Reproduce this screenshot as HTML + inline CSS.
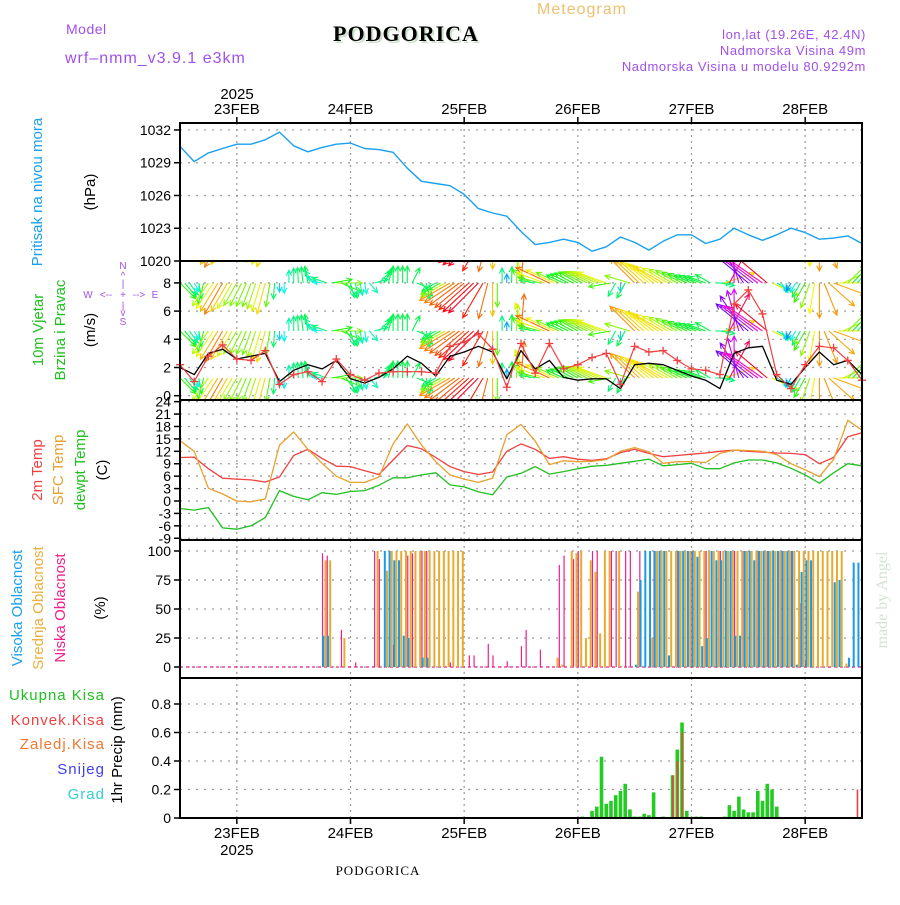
<!DOCTYPE html>
<html><head><meta charset="utf-8">
<style>
body{margin:0;background:#fff;}
svg text{font-family:"Liberation Sans",sans-serif;}
</style></head>
<body>
<svg id="c" width="900" height="900" viewBox="0 0 900 900" xmlns="http://www.w3.org/2000/svg">
<defs>
<clipPath id="cpw"><rect x="180" y="262" width="682" height="137"/></clipPath>
</defs>
<g>
<text x="582" y="14" fill="#f0c070" font-size="16" text-anchor="middle" letter-spacing="1">Meteogram</text>
<text x="66" y="34" fill="#a050e8" font-size="14" letter-spacing="0.5">Model</text>
<text x="408" y="43" fill="#cde0cd" font-size="22" font-weight="bold" text-anchor="middle" style="font-family:'Liberation Serif',serif" letter-spacing="1">PODGORICA</text>
<text x="406" y="41" fill="#000" font-size="22" font-weight="bold" text-anchor="middle" style="font-family:'Liberation Serif',serif" letter-spacing="1">PODGORICA</text>
<text x="65" y="63" fill="#a050e8" font-size="16" letter-spacing="1">wrf–nmm_v3.9.1  e3km</text>
<text x="866" y="39" fill="#a050e8" font-size="13" text-anchor="end" letter-spacing="0.6">lon,lat (19.26E, 42.4N)</text>
<text x="866" y="55" fill="#a050e8" font-size="13" text-anchor="end" letter-spacing="0.6">Nadmorska Visina 49m</text>
<text x="866" y="71" fill="#a050e8" font-size="13" text-anchor="end" letter-spacing="0.6">Nadmorska Visina u modelu 80.9292m</text>
<text x="237" y="99" fill="#000" font-size="15" text-anchor="middle">2025</text>
<text x="378" y="875" fill="#000" font-size="13" text-anchor="middle" style="font-family:'Liberation Serif',serif" letter-spacing="1">PODGORICA</text>
<text transform="translate(887,600) rotate(-90)" fill="#d4e2d4" font-size="16" text-anchor="middle" style="font-family:'Liberation Serif',serif">made by Angel</text>
</g>
<g>
<text transform="translate(42,192) rotate(-90)" fill="#1aa0f0" font-size="15" text-anchor="middle">Pritisak na nivou mora</text>
<text transform="translate(95,192) rotate(-90)" fill="#000" font-size="15" text-anchor="middle">(hPa)</text>
<text transform="translate(43,330) rotate(-90)" fill="#20c020" font-size="15" text-anchor="middle">10m Vjetar</text>
<text transform="translate(65,330) rotate(-90)" fill="#20c020" font-size="15" text-anchor="middle">Brzina i Pravac</text>
<text transform="translate(95,330) rotate(-90)" fill="#000" font-size="15" text-anchor="middle">(m/s)</text>
<g fill="#a050e8" font-size="10" text-anchor="middle">
<text x="123" y="269">N</text><text x="123" y="279">^</text><text x="123" y="287">|</text>
<text x="88" y="298">W</text><text x="106" y="298">&lt;--</text><text x="123" y="298">+</text><text x="139" y="298">--&gt;</text><text x="155" y="298">E</text>
<text x="123" y="309">|</text><text x="123" y="316">v</text><text x="123" y="325">S</text>
</g>
<text transform="translate(42,470) rotate(-90)" fill="#f04040" font-size="15" text-anchor="middle">2m Temp</text>
<text transform="translate(63,470) rotate(-90)" fill="#e8a030" font-size="15" text-anchor="middle">SFC Temp</text>
<text transform="translate(85,470) rotate(-90)" fill="#20c020" font-size="15" text-anchor="middle">dewpt Temp</text>
<text transform="translate(107,470) rotate(-90)" fill="#000" font-size="15" text-anchor="middle">(C)</text>
<text transform="translate(22,608) rotate(-90)" fill="#1aa0f0" font-size="15" text-anchor="middle">Visoka Oblacnost</text>
<text transform="translate(43,608) rotate(-90)" fill="#e8b040" font-size="15" text-anchor="middle">Srednja Oblacnost</text>
<text transform="translate(65,608) rotate(-90)" fill="#f0208a" font-size="15" text-anchor="middle">Niska Oblacnost</text>
<text transform="translate(105,608) rotate(-90)" fill="#000" font-size="15" text-anchor="middle">(%)</text>
<text x="105" y="700" fill="#20c020" font-size="15" text-anchor="end" letter-spacing="1">Ukupna  Kisa</text>
<text x="105" y="725" fill="#f04040" font-size="15" text-anchor="end" letter-spacing="1">Konvek.Kisa</text>
<text x="105" y="749" fill="#f07830" font-size="15" text-anchor="end" letter-spacing="1">Zaledj.Kisa</text>
<text x="105" y="774" fill="#4040f0" font-size="15" text-anchor="end" letter-spacing="1">Snijeg</text>
<text x="105" y="799" fill="#30d0d0" font-size="15" text-anchor="end" letter-spacing="1">Grad</text>
<text transform="translate(122,750) rotate(-90)" fill="#000" font-size="15" text-anchor="middle">1hr Precip (mm)</text>
</g>
<g id="plot"></g>
</svg>
<script>
// ---- data ----
const dayLabels = ["23FEB","24FEB","25FEB","26FEB","27FEB","28FEB"];
const dayHours = [12,36,60,84,108,132];
// 3-hourly series (hours 0..144 from 22FEB 12Z)
const pressure = [1030.5,1029.1,1029.9,1030.3,1030.7,1030.7,1031.1,1031.8,1030.55,1030.0,1030.4,1030.7,1030.8,1030.3,1030.2,1029.95,1028.5,1027.3,1027.1,1026.9,1026.1,1024.8,1024.4,1024.1,1022.7,1021.5,1021.7,1022.0,1021.7,1020.9,1021.3,1022.2,1021.7,1021.0,1021.8,1022.4,1022.4,1021.6,1022.0,1023.0,1022.4,1021.9,1022.4,1023.0,1022.6,1022.0,1022.1,1022.3,1021.6];
const temp2m = [10.5,10.6,7.8,5.5,5.3,5.1,4.6,5.8,11.0,12.5,10.3,8.4,8.3,7.3,6.4,9.9,13.4,12.6,10.5,8.3,7.1,6.4,7.0,12.0,13.8,12.5,10.3,10.7,10.1,9.8,10.2,11.7,12.5,11.5,10.7,11.0,11.3,11.6,12.0,12.3,12.0,11.8,11.6,11.5,11.2,9.0,10.5,15.5,16.5];
const tempSfc = [14.6,12.0,3.1,1.7,0.0,-0.2,0.5,13.5,16.7,12.5,9.1,6.0,4.5,4.5,5.8,13.8,18.6,13.5,9.5,6.3,5.3,4.5,5.5,16.0,18.5,14.5,8.8,9.7,9.5,9.6,10.0,12.0,12.9,11.9,9.1,9.5,9.5,9.3,11.5,12.3,12.2,12.0,11.2,9.0,7.5,5.9,10.0,19.5,17.1];
const dewpt = [-1.8,-2.2,-1.6,-6.5,-6.8,-6.0,-4.0,2.5,1.1,0.3,2.0,1.6,2.3,2.5,3.8,5.6,5.6,6.3,6.8,3.9,3.4,2.2,1.5,5.8,6.7,8.3,6.5,7.1,7.8,8.4,8.6,9.1,9.6,10.1,8.5,8.8,9.1,7.8,7.8,9.2,9.9,9.9,9.2,7.9,6.3,4.3,6.8,9.0,8.5];
const windSpeed = [2.0,1.5,3.0,3.3,2.6,2.8,3.0,1.0,1.8,2.2,1.9,2.5,1.2,0.9,1.3,1.9,2.8,2.3,1.4,2.8,3.1,3.5,3.1,1.2,3.2,1.9,2.5,1.3,1.1,1.2,1.2,0.5,2.2,2.3,2.2,1.8,1.4,1.1,0.5,3.0,3.4,3.5,1.1,0.8,2.0,3.1,2.2,2.5,1.5];
const windGust = [2.2,1.0,2.8,3.6,2.6,2.5,3.2,0.8,1.5,1.7,1.0,2.6,1.5,1.1,1.6,1.7,1.7,1.7,1.6,3.5,3.8,4.4,3.3,0.6,3.7,1.6,3.7,1.9,2.2,2.7,3.0,0.8,3.5,3.1,3.2,2.5,1.9,1.8,1.5,6.5,7.5,5.8,1.5,0.5,2.2,3.5,3.4,2.5,1.1];
const windDir = [135,150,215,210,210,200,195,180,0,350,280,90,165,170,45,0,0,140,240,240,230,225,180,0,5,280,295,295,300,295,290,180,315,310,300,300,295,290,100,0,310,305,120,210,210,180,110,45,40];
// hourly cloud cover (%) hour index 0..143
const cloudHigh = [0,0,0,0,0,0,0,0,0,0,0,0,0,0,0,0,0,0,0,0,0,0,0,0,0,0,0,0,0,0,27,27,0,0,0,0,0,0,0,0,0,0,0,100,100,92,92,27,25,0,0,8,8,0,0,0,0,0,0,0,0,0,0,0,0,0,0,0,0,0,0,0,0,0,0,0,0,0,0,0,0,0,0,0,0,0,0,0,0,0,0,0,0,0,0,0,2,75,100,100,100,100,100,10,0,100,100,100,100,95,18,25,100,92,92,100,100,27,27,100,100,92,100,100,100,100,100,100,100,100,2,82,92,92,0,0,0,0,73,75,0,8,90,90];
const cloudMid = [0,0,0,0,0,0,0,0,0,0,0,0,0,0,0,0,0,0,0,0,0,0,0,0,0,0,0,0,0,0,92,92,0,0,25,0,0,0,0,0,0,100,0,83,100,100,100,100,100,100,100,100,100,100,100,100,100,100,100,100,0,0,0,0,0,0,0,0,0,0,0,0,0,0,0,0,0,0,0,8,2,0,100,98,100,25,92,82,29,100,100,0,100,0,0,0,65,0,0,25,100,100,100,100,100,100,100,100,100,100,100,100,100,100,100,100,100,100,100,100,100,100,100,100,100,100,100,100,100,100,100,100,100,100,100,100,100,100,100,100,3,0,0,0];
const cloudLow = [0,0,0,0,0,0,0,0,0,0,0,0,0,0,0,0,0,0,0,0,0,0,0,0,0,0,0,0,0,98,96,0,0,32,0,0,4,0,0,0,100,93,0,0,19,0,0,96,98,0,100,100,0,0,0,0,4,0,0,0,10,10,0,0,20,10,0,0,5,0,0,18,32,0,0,15,0,0,0,88,96,0,93,100,0,0,100,100,0,0,100,100,0,100,100,0,100,0,0,100,0,0,0,0,100,0,0,100,0,0,100,0,0,100,0,0,100,0,100,0,0,100,0,100,0,0,100,0,100,0,55,4,0,0,0,0,0,0,0,0,0,0,0,0];
// hourly precipitation (mm) hours with rain
const precipHours = [85,87,88,89,90,91,92,93,94,95,96,97,98,99,100,102,104,105,106,107,109,110,115,116,117,118,119,120,121,122,123,124,125,126];
const precipTotal = [0.01,0.05,0.08,0.43,0.1,0.12,0.16,0.19,0.24,0.06,0.01,0.01,0.03,0.02,0.18,0.01,0.3,0.48,0.67,0.05,0.01,0.01,0.01,0.09,0.05,0.15,0.06,0.04,0.04,0.19,0.12,0.24,0.20,0.08];
const convHours = [104,105,106,143];
const convVals = [0.3,0.4,0.6,0.2];
const pTicks = [1020,1023,1026,1029,1032];
const wTicks = [0,2,4,6,8];
const tTicks = [-9,-6,-3,0,3,6,9,12,15,18,21,24];
const cTicks = [0,25,50,75,100];
const rTicks = [0,0.2,0.4,0.6,0.8];

// ---- scales ----
const X0=180, X1=862, NH=144;
const xS = h => X0 + h*(X1-X0)/NH;
const yP = v => 261 - (v-1020)*10.92;
const yW = v => 395.7 - v*14.1;
const yT = v => 501 - v*4.14;
const yC = v => 667 - v*1.16;
const yR = v => 818 - v*142.5;
const NS="http://www.w3.org/2000/svg";
const plot=document.getElementById('plot');
function mk(tag, attrs, parent){const e=document.createElementNS(NS,tag);for(const k in attrs)e.setAttribute(k,attrs[k]);(parent||plot).appendChild(e);return e;}

const panels=[{t:123,b:261,n:'pressure'},{t:261,b:400,n:'wind'},{t:400,b:540,n:'temperature'},{t:540,b:678,n:'cloud'},{t:678,b:818,n:'precip'}];
panels.forEach(p=>{
  dayHours.forEach(h=>{const l=mk('line',{x1:xS(h),x2:xS(h),y1:p.t,y2:p.b,stroke:'#999','stroke-width':1.2,'stroke-dasharray':'2,4'});
    
    });
});
function hgrid(ticks, ys, fmt){
  ticks.forEach(v=>{const y=ys(v);
    const g=mk('line',{x1:X0,x2:X1,y1:y,y2:y,stroke:'#999','stroke-width':1.2,'stroke-dasharray':'2,6'});
    
    
    const tk=mk('line',{x1:X0-6,x2:X0,y1:y,y2:y,stroke:'#000','stroke-width':1.5});
    
    
    const t=mk('text',{x:X0-9,y:y+5,'text-anchor':'end','font-size':14,fill:'#000'});
    t.textContent=fmt?fmt(v):v;
    
    
  });
}
hgrid(pTicks,yP);hgrid(wTicks,yW);hgrid(tTicks,yT);hgrid(cTicks,yC);hgrid(rTicks,yR,v=>v===0?'0':v.toFixed(1));

dayHours.forEach((h,i)=>{
  const a=mk('text',{x:xS(h),y:114,'text-anchor':'middle','font-size':15,fill:'#000'});a.textContent=dayLabels[i];
  
  
  const b=mk('text',{x:xS(h),y:838,'text-anchor':'middle','font-size':15,fill:'#000'});b.textContent=dayLabels[i];
  
  
  mk('line',{x1:xS(h),x2:xS(h),y1:117,y2:123,stroke:'#000','stroke-width':1.5});
  mk('line',{x1:xS(h),x2:xS(h),y1:818,y2:824,stroke:'#000','stroke-width':1.5});
});
const yr=mk('text',{x:xS(12),y:855,'text-anchor':'middle','font-size':15,fill:'#000'});yr.textContent='2025';



function line3(arr, ys, color, name, w){
  const pts=arr.map((v,i)=>xS(i*3).toFixed(1)+','+ys(v).toFixed(1)).join(' ');
  const pl=mk('polyline',{points:pts,fill:'none',stroke:color,'stroke-width':w||1.3,'stroke-linejoin':'round'});
  
  
  return pl;
}
line3(pressure,yP,'#1aa0f0','pressure-line',1.4);

function interp(arr,h){const i=Math.min(Math.floor(h/3),arr.length-2);const f=h/3-i;return arr[i]*(1-f)+arr[i+1]*f;}
function dirAt(h){const i=Math.min(Math.floor(h/3),windDir.length-2);const f=h/3-i;
  const a=windDir[i]*Math.PI/180,b=windDir[i+1]*Math.PI/180;
  const sx=Math.sin(a)*(1-f)+Math.sin(b)*f, cy=Math.cos(a)*(1-f)+Math.cos(b)*f;return Math.atan2(sx,cy);}
function hueFor(g){let h=235-g*57;if(h<0)h=360+h*0.5;return h;}
const wg=mk('g',{'clip-path':'url(#cpw)'});


const rows=[236,283,331,378];
for(let h=0;h<=NH;h++){
  const g=interp(windGust,h), d=dirAt(h);
  const L=Math.min(42,Math.max(9,g*10));
  const col='hsl('+hueFor(g).toFixed(0)+',92%,50%)';
  rows.forEach(r=>{
    const x=xS(h), x2=x+Math.sin(d)*L, y2=r-Math.cos(d)*L;
    const hx1=x2-Math.sin(d-0.45)*6, hy1=y2+Math.cos(d-0.45)*6;
    const hx2=x2-Math.sin(d+0.45)*6, hy2=y2+Math.cos(d+0.45)*6;
    const p=mk('path',{d:`M${x.toFixed(1)},${r}L${x2.toFixed(1)},${y2.toFixed(1)}M${hx1.toFixed(1)},${hy1.toFixed(1)}L${x2.toFixed(1)},${y2.toFixed(1)}L${hx2.toFixed(1)},${hy2.toFixed(1)}`,stroke:col,'stroke-width':1.1,fill:'none'},wg);
    
    
  });
}
line3(windSpeed,yW,'#000','wind-speed-line',1.3);
line3(windGust,yW,'#f04040','wind-gust-line',1.2);
windGust.forEach((v,i)=>{const x=xS(i*3),y=yW(v);
  const m=mk('path',{d:`M${x-4},${y}h8M${x},${y-4}v8`,stroke:'#f04040','stroke-width':1.3});
  
  });

line3(temp2m,yT,'#f04040','temp-2m-line',1.3);
line3(tempSfc,yT,'#e8a030','temp-sfc-line',1.3);
line3(dewpt,yT,'#20c020','dewpoint-line',1.3);

const zl=mk('line',{x1:X0,x2:X1,y1:yC(0),y2:yC(0),stroke:'#f0208a','stroke-width':1.2,'stroke-dasharray':'3,3'});


for(let h=0;h<NH;h++){
  const x=xS(h+0.5);
  if(cloudHigh[h]>0){const b=mk('rect',{x:x-2.2,y:yC(cloudHigh[h]),width:2,height:yC(0)-yC(cloudHigh[h]),fill:'#1a9ae8'});
    
    }
  if(cloudMid[h]>0){const b=mk('rect',{x:x,y:yC(cloudMid[h]),width:2,height:yC(0)-yC(cloudMid[h]),fill:'#e8aa30'});
    
    }
  if(cloudLow[h]>0){const b=mk('rect',{x:x+2.2,y:yC(cloudLow[h]),width:1.2,height:yC(0)-yC(cloudLow[h]),fill:'#f0208a'});
    
    }
}

precipHours.forEach((h,i)=>{const v=precipTotal[i];
  const b=mk('rect',{x:xS(h)-1.8,y:yR(v),width:3.6,height:yR(0)-yR(v),fill:'#22cc22'});
  
  });
convHours.forEach((h,i)=>{const v=convVals[i];
  const b=mk('rect',{x:xS(h)-0.6,y:yR(v),width:1.6,height:yR(0)-yR(v),fill:'#f04040'});
  
  });

panels.forEach(p=>{const r=mk('rect',{x:X0,y:p.t,width:X1-X0,height:p.b-p.t,fill:'none',stroke:'#000','stroke-width':2});
  
  });
</script>
</body></html>
